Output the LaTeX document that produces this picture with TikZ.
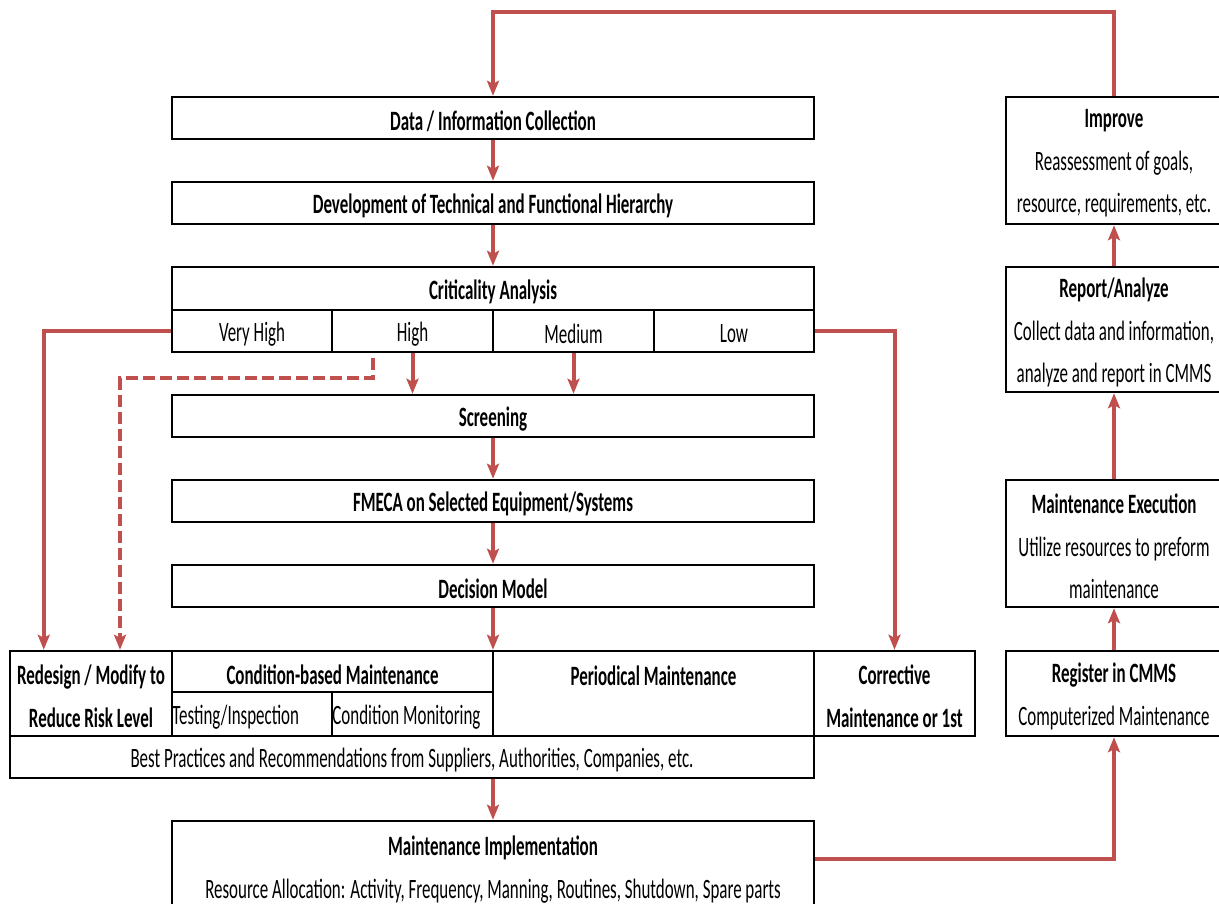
\documentclass[tikz,border=0pt]{standalone}
\usepackage{fontspec}
\setmainfont{Carlito}[FakeStretch=0.605]
\usetikzlibrary{arrows.meta}
\definecolor{flow}{HTML}{C0504D}
% cell from corner (x1,y1) to corner (x2,y2); #6 = text placement, #7 = text
\newcommand\cellat[7]{%
  \node[cell,minimum width={(#4-#2)*1pt},minimum height={(#5-#3)*1pt},
    label={[celltext,#6]{#7}}]
    (#1) at ({(#2+#4)/2},{(#3+#5)/2}) {};}
\begin{document}
\begin{tikzpicture}[x=1pt,y=-1pt,
  cell/.style={draw=black, line width=2.5pt, inner sep=0pt},
  celltext/.style={inner sep=0pt, align=center, anchor=center, yshift=-3pt,
    font=\fontsize{28}{42.5}\selectfont},
  mid/.style={label position=center},
  leftin/.style={label position=west, anchor=west, xshift=1.5pt},
  flowline/.style={draw=flow, line width=4pt},
  flowarrow/.style={flowline, -{Stealth[length=15pt,width=12pt,inset=3pt]}},
  dasharrow/.style={flowarrow, dash pattern=on 12pt off 5pt}]
\useasboundingbox (0,0) rectangle (1219,904);
\clip (0,0) rectangle (1219,904);

% main column
\cellat{data}{172}{97}{814}{139}{mid}{\textbf{Data / Information Collection}}
\cellat{dev}{172}{182}{814}{224}{mid}{\textbf{Development of Technical and Functional Hierarchy}}
\cellat{crit}{172}{267}{814}{310}{mid}{\textbf{Criticality Analysis}}
\cellat{vhigh}{172}{310}{332}{352}{mid}{Very High}
\cellat{high}{332}{310}{493}{352}{mid}{High}
\cellat{med}{493}{310}{654}{352}{mid}{Medium}
\cellat{low}{654}{310}{814}{352}{mid}{Low}
\cellat{scr}{172}{395}{814}{437}{mid}{\textbf{Screening}}
\cellat{fmeca}{172}{480}{814}{522}{mid}{\textbf{FMECA on Selected Equipment/Systems}}
\cellat{dec}{172}{565}{814}{607}{mid}{\textbf{Decision Model}}

% strategy table
\cellat{redesign}{10}{651}{172}{736}{mid}{\textbf{Redesign / Modify to}\\\textbf{Reduce Risk Level}}
\cellat{cbm}{172}{651}{493}{692}{mid}{\textbf{Condition-based Maintenance}}
\cellat{test}{172}{692}{332}{736}{leftin}{Testing/Inspection}
\cellat{cmon}{332}{692}{493}{736}{leftin}{Condition Monitoring}
\cellat{per}{493}{651}{814}{736}{mid}{\textbf{Periodical Maintenance}\\\mbox{}}
\cellat{corr}{814}{651}{975}{736}{mid}{\textbf{Corrective}\\\textbf{Maintenance or 1st}}
\cellat{best}{10}{736}{814}{778}{mid}{Best Practices and Recommendations from Suppliers, Authorities, Companies, etc.}
\cellat{impl}{172}{821}{814}{912}{mid}{\textbf{Maintenance Implementation}\\Resource Allocation: Activity, Frequency, Manning, Routines, Shutdown, Spare parts}

% improvement cycle
\cellat{improve}{1006}{97}{1222}{224}{mid}{\textbf{Improve}\\Reassessment of goals,\\resource, requirements, etc.}
\cellat{report}{1006}{267}{1222}{392}{mid}{\textbf{Report/Analyze}\\Collect data and information,\\analyze and report in CMMS}
\cellat{exec}{1006}{480}{1222}{607}{mid}{\textbf{Maintenance Execution}\\Utilize resources to preform\\maintenance}
\cellat{reg}{1006}{651}{1222}{736}{mid}{\textbf{Register in CMMS}\\Computerized Maintenance}

\coordinate (loop) at (0,12);
\coordinate (dashturn) at (120,378);

% connectors
\draw[flowarrow] (improve.north) -- (improve.north |- loop) -| (data.north);
\draw[flowarrow] (data.south) -- (dev.north);
\draw[flowarrow] (dev.south) -- (crit.north);
\draw[flowarrow] (high.south) -- (high.south |- scr.north);
\draw[flowarrow] (med.south) -- (med.south |- scr.north);
\draw[flowarrow] (scr.south) -- (fmeca.north);
\draw[flowarrow] (fmeca.south) -- (dec.north);
\draw[flowarrow] (dec.south) -- (dec.south |- cbm.north);
\draw[flowarrow] (vhigh.west) -| ([xshift=35pt]redesign.north west);
\draw[dasharrow] ([xshift=42pt,yshift=-5pt]high.south west) |- (dashturn) -- (dashturn |- redesign.north);
\draw[flowarrow] (low.east) -| (corr.north);
\draw[flowarrow] (best.south -| impl.north) -- (impl.north);
\draw[flowarrow] ([yshift=7.5pt]impl.east) -| (reg.south);
\draw[flowarrow] (reg.north) -- (exec.south);
\draw[flowarrow] (exec.north) -- (report.south);
\draw[flowarrow] (report.north) -- (improve.south);
\end{tikzpicture}
\end{document}
